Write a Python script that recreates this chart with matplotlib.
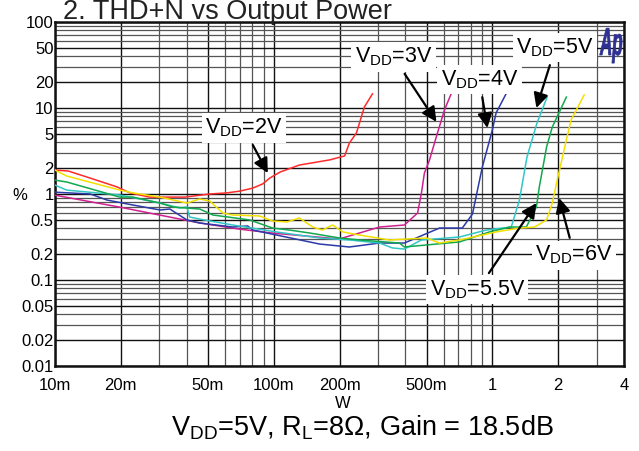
import matplotlib
matplotlib.use('Agg')
import matplotlib.pyplot as plt
import matplotlib.ticker as mticker
from matplotlib.textpath import TextPath
from matplotlib.patches import PathPatch
from matplotlib.font_manager import FontProperties
from matplotlib.transforms import Affine2D

# ─── DATOS ───────────────────────────────────────────────────────────────────
# potencia de salida (W) y THD+N (%) para cada VDD
x_2v = [0.0100, 0.0115, 0.0145, 0.0192, 0.0220, 0.0271, 0.0392, 0.0510, 0.0610, 0.0700,
        0.0802, 0.0891, 0.0959, 0.107, 0.131, 0.180, 0.211, 0.222, 0.239, 0.260, 0.283]
y_2v = [1.90, 1.85, 1.53, 1.21, 1.03, 0.92, 0.92, 1.00, 1.03, 1.08,
        1.17, 1.31, 1.53, 1.80, 2.17, 2.49, 2.77, 3.92, 5.12, 10.3, 14.6]

x_3v = [0.0100, 0.0150, 0.0200, 0.0300, 0.0460, 0.0700, 0.100, 0.150, 0.200, 0.222,
        0.305, 0.396, 0.455, 0.474, 0.489, 0.516, 0.561, 0.604, 0.650]
y_3v = [0.97, 0.80, 0.70, 0.57, 0.46, 0.39, 0.35, 0.32, 0.30, 0.325,
        0.413, 0.436, 0.60, 1.03, 1.75, 2.49, 5.12, 9.48, 14.9]

x_4v = [0.0100, 0.0145, 0.0173, 0.0227, 0.0302, 0.0335, 0.0401, 0.0459, 0.0650, 0.0761,
        0.0802, 0.162, 0.222, 0.305, 0.396, 0.573, 0.729, 0.811, 0.900, 1.00, 1.04, 1.16]
y_4v = [1.05, 1.00, 0.85, 0.745, 0.652, 0.669, 0.499, 0.46, 0.413, 0.425,
        0.381, 0.262, 0.242, 0.269, 0.269, 0.402, 0.402, 0.585, 2.06, 5.55, 8.75, 14.9]

x_5v = [0.0100, 0.0113, 0.0198, 0.0302, 0.0372, 0.0401, 0.0413, 0.0460, 0.0650, 0.103,
        0.162, 0.222, 0.305, 0.349, 0.396, 0.474, 0.707, 0.939, 1.22, 1.33, 1.44, 1.60, 1.78]
y_5v = [1.27, 1.11, 0.973, 0.785, 0.688, 0.706, 0.540, 0.51, 0.436, 0.362,
        0.308, 0.292, 0.269, 0.236, 0.229, 0.292, 0.316, 0.381, 0.413, 0.851, 2.69, 6.69, 13.4]

x_55v = [0.0100, 0.0113, 0.0198, 0.0227, 0.0302, 0.0346, 0.0459, 0.0527, 0.0777, 0.0989,
         0.118, 0.146, 0.200, 0.247, 0.376, 0.396, 0.707, 0.969, 1.20, 1.43, 1.59, 1.64,
         1.77, 1.88, 2.18]
y_55v = [1.45, 1.38, 0.92, 0.92, 0.785, 0.706, 0.669, 0.570, 0.499, 0.402,
         0.381, 0.352, 0.308, 0.292, 0.269, 0.242, 0.277, 0.362, 0.413, 0.413, 0.706, 1.21,
         3.52, 6.01, 13.4]

x_6v = [0.0100, 0.0113, 0.0198, 0.0227, 0.0302, 0.0401, 0.0459, 0.0510, 0.0585, 0.0650,
        0.0863, 0.0989, 0.115, 0.131, 0.151, 0.167, 0.186, 0.207, 0.247, 0.339, 0.500,
        0.573, 0.707, 0.900, 1.04, 1.33, 1.56, 1.77, 1.88, 1.98, 2.18, 2.29, 2.63]
y_6v = [1.90, 1.62, 1.11, 1.03, 0.92, 0.785, 0.874, 0.829, 0.601, 0.570,
        0.555, 0.485, 0.473, 0.526, 0.413, 0.381, 0.436, 0.362, 0.333, 0.292, 0.308,
        0.269, 0.292, 0.333, 0.362, 0.402, 0.413, 0.499, 0.785, 1.45, 4.25, 7.25, 14.2]

series = [
    (x_2v, y_2v, '#FF2A2A'),
    (x_3v, y_3v, '#D02090'),
    (x_4v, y_4v, '#2B3AA8'),
    (x_5v, y_5v, '#33C6C6'),
    (x_55v, y_55v, '#12A84E'),
    (x_6v, y_6v, '#F2E000'),
]

xticks = [0.01, 0.02, 0.05, 0.1, 0.2, 0.5, 1, 2, 4]
xlabels = ['10m', '20m', '50m', '100m', '200m', '500m', '1', '2', '4']
yticks = [0.01, 0.02, 0.05, 0.1, 0.2, 0.5, 1, 2, 5, 10, 20, 50, 100]
ylabels = ['0.01', '0.02', '0.05', '0.1', '0.2', '0.5', '1', '2', '5', '10', '20', '50', '100']

# etiqueta, posición del texto, punta de la flecha (W, %)
etiquetas = [
    ('2V', (0.073, 5.85), (0.094, 1.75)),
    ('3V', (0.353, 39.2), (0.555, 6.9)),
    ('4V', (0.873, 21.2), (0.949, 5.85)),
    ('5V', (1.94, 49.9), (1.59, 10.0)),
    ('5.5V', (0.855, 0.0766), (1.59, 0.785)),
    ('6V', (2.37, 0.195), (2.02, 0.898)),
]

# ─── ESTILO ──────────────────────────────────────────────────────────────────
plt.rcParams['font.family'] = ['Liberation Sans', 'DejaVu Sans']
plt.rcParams['mathtext.fontset'] = 'custom'
plt.rcParams['mathtext.rm'] = 'Liberation Sans'
plt.rcParams['mathtext.it'] = 'Liberation Sans:italic'

fig = plt.figure(figsize=(6.39, 4.51), dpi=100)
ax = fig.add_axes([55/639, 1 - 366/451, 569/639, 344/451])

ax.set_xscale('log')
ax.set_yscale('log')
ax.set_xlim(0.01, 4)
ax.set_ylim(0.01, 100)

ax.xaxis.set_major_locator(mticker.FixedLocator(xticks))
ax.xaxis.set_major_formatter(mticker.FixedFormatter(xlabels))
ax.yaxis.set_major_locator(mticker.FixedLocator(yticks))
ax.yaxis.set_major_formatter(mticker.FixedFormatter(ylabels))
ax.xaxis.set_minor_locator(mticker.LogLocator(base=10, subs=range(1, 10), numticks=20))
ax.yaxis.set_minor_locator(mticker.LogLocator(base=10, subs=range(1, 10), numticks=20))
ax.xaxis.set_minor_formatter(mticker.NullFormatter())
ax.yaxis.set_minor_formatter(mticker.NullFormatter())

ax.grid(which='major', color='#111111', lw=1.0)
ax.grid(which='minor', color='#555555', lw=0.9)
ax.tick_params(which='both', length=0)
ax.tick_params(axis='x', labelsize=12, pad=9)
ax.tick_params(axis='y', labelsize=12, pad=1)
for s in ax.spines.values():
    s.set_linewidth(1.8)
    s.set_color('#111111')

# ─── CURVAS ──────────────────────────────────────────────────────────────────
for xs, ys, c in series:
    ax.plot(xs, ys, color=c, lw=1.1, zorder=3)

for v, txt_pos, tip in etiquetas:
    ax.annotate(r'V$_{\rm DD}$=' + v, xy=tip, xytext=txt_pos,
                ha='center', va='center', fontsize=15.5, zorder=5,
                bbox=dict(boxstyle='square,pad=0.15', fc='white', ec='none'),
                arrowprops=dict(arrowstyle='-|>', color='black', lw=1.6,
                                mutation_scale=22, shrinkA=2, shrinkB=0))

# ─── TEXTOS ──────────────────────────────────────────────────────────────────
fig.text(63/639, 1 - 19/451, '2. THD+N vs Output Power', fontsize=19.5,
         ha='left', va='baseline', color='#222222')
fig.text(20/639, 1 - 195/451, '%', fontsize=12, ha='center', va='center')
fig.text(343/639, 1 - 403/451, 'W', fontsize=12, ha='center', va='center')
fig.text(362/639, 1 - 436/451, r'V$_{\rm DD}$=5V, R$_{\rm L}$=8$\Omega$, Gain = 18.5dB',
         fontsize=19.5, ha='center', va='baseline')

# logotipo Ap (estrecho)
tp = TextPath((0, 0), 'Ap', size=1,
              prop=FontProperties(family='Liberation Sans', weight='bold', style='italic'))
tr = Affine2D().scale(17/100, 39/100).translate(600/100, (451 - 55)/100) + fig.dpi_scale_trans
fig.add_artist(PathPatch(tp, transform=tr, fc='#2E3192', ec='#2E3192', lw=0.5, zorder=6))

fig.savefig('out.png', dpi=100)
